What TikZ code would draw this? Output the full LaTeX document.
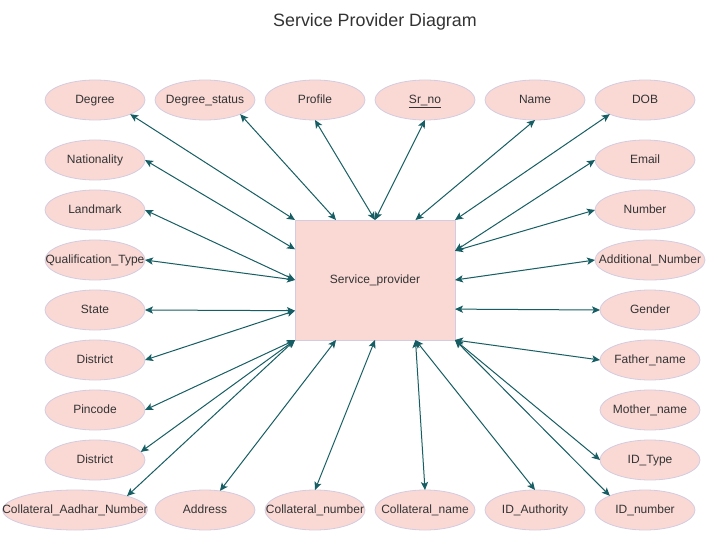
\documentclass[tikz,border=0pt]{standalone}
\usepackage{fontspec}
\setmainfont{Liberation Sans}
\usetikzlibrary{arrows.meta,shapes.geometric,calc}
\definecolor{attrfill}{HTML}{FAD9D5}
\definecolor{attrline}{HTML}{D3CBE0}
\definecolor{linkc}{HTML}{165E63}
\definecolor{txt}{HTML}{333333}
\tikzset{
  attr/.style={ellipse, draw=attrline, fill=attrfill, line width=0.6pt,
    minimum width=75pt, minimum height=30pt, inner sep=0pt, outer sep=0pt,
    text height=6.6pt, text depth=1.9pt,
    text=txt, font=\fontsize{9}{11}\selectfont},
  entity/.style={rectangle, draw=attrline, fill=attrfill, line width=0.6pt,
    minimum width=120pt, minimum height=90pt, inner sep=0pt, outer sep=0pt,
    text height=6.6pt, text depth=1.9pt,
    text=txt, font=\fontsize{9}{11}\selectfont},
  tip/.tip={Stealth[length=6pt,width=5.4pt,inset=1.4pt]},
  link/.style={draw=linkc, line width=0.75pt, tip-tip},
}
\newcommand{\zt}[1]{\makebox[0pt]{#1}}
\begin{document}
\begin{tikzpicture}[x=0.75pt,y=-0.75pt]
\useasboundingbox (0,0) rectangle (709,534);
\fill[white] (0,0) rectangle (709,534);
\node[text=txt, font=\fontsize{13.4}{16}\selectfont] (title) at (375,22) {Service Provider Diagram};
\node[entity] (sp) at (375,280) {Service\_provider};
% top row
\node[attr] (deg) at (95,100) {\zt{Degree}};
\node[attr] (degst) at (205,100) {\zt{Degree\_status}};
\node[attr] (prof) at (315,100) {\zt{Profile}};
\node[attr] (srno) at (425,100) {\zt{\underline{Sr\_no}}};
\node[attr] (name) at (535,100) {\zt{Name}};
\node[attr] (dob) at (645,100) {\zt{DOB}};
% left column
\node[attr] (nat) at (95,160) {\zt{Nationality}};
\node[attr] (land) at (95,210) {\zt{Landmark}};
\node[attr] (qual) at (95,260) {\zt{Qualification\_Type}};
\node[attr] (state) at (95,310) {\zt{State}};
\node[attr] (dista) at (95,360) {\zt{District}};
\node[attr] (pin) at (95,410) {\zt{Pincode}};
\node[attr] (distb) at (95,460) {\zt{District}};
% bottom row
\node[attr, minimum width=108.75pt] (aadhar) at (75,510) {\zt{Collateral\_Aadhar\_Number}};
\node[attr] (addr) at (205,510) {\zt{Address}};
\node[attr] (cnum) at (315,510) {\zt{Collateral\_number}};
\node[attr] (cname) at (425,510) {\zt{Collateral\_name}};
\node[attr] (idauth) at (535,510) {\zt{ID\_Authority}};
\node[attr] (idnum) at (645,510) {\zt{ID\_number}};
% right column
\node[attr] (email) at (645,160) {\zt{Email}};
\node[attr] (number) at (645,210) {\zt{Number}};
\node[attr, minimum width=82.5pt] (addnum) at (650,260) {\zt{Additional\_Number}};
\node[attr] (gender) at (650,310) {\zt{Gender}};
\node[attr] (father) at (650,360) {\zt{Father\_name}};
\node[attr] (mother) at (650,410) {\zt{Mother\_name}};
\node[attr] (idtype) at (650,460) {\zt{ID\_Type}};
% connectors
\draw[link] (deg.-22) -- (sp.north west);
\draw[link] (degst.-22) -- (sp.123.69);
\draw[link] (prof.south) -- (sp.north);
\draw[link] (srno.south) -- (sp.north);
\draw[link] (name.south) -- (sp.56.31);
\draw[link] (dob.-158) -- (sp.north east);
\draw[link] (email.west) -- (sp.20.56);
\draw[link] (number.west) -- (sp.20.56);
\draw[link] (addnum.west) -- (sp.east);
\draw[link] (gender.west) -- (sp.-20.56);
\draw[link] (father.west) -- (sp.south east);
\draw[link] (idtype.west) -- (sp.south east);
\draw[link] (idnum.158) -- (sp.south east);
\draw[link] (idauth.north) -- (sp.-56.31);
\draw[link] (cname.north) -- (sp.-56.31);
\draw[link] (cnum.north) -- (sp.south);
\draw[link] (addr.52) -- (sp.-123.69);
\draw[link] (aadhar.15.5) -- (sp.south west);
\draw[link] (distb.10) -- (sp.south west);
\draw[link] (pin.east) -- (sp.south west);
\draw[link] (dista.east) -- (sp.-159.44);
\draw[link] (state.east) -- (sp.-159.44);
\draw[link] (qual.east) -- (sp.west);
\draw[link] (land.east) -- (sp.west);
\draw[link] (nat.east) -- (sp.159.44);
\end{tikzpicture}
\end{document}
